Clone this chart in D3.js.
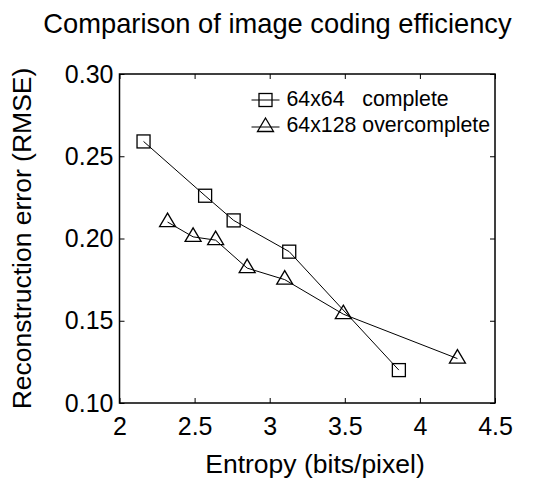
<!DOCTYPE html>
<html>
<head>
<meta charset="utf-8">
<script src="https://cdn.jsdelivr.net/npm/d3@7"></script>
<style>
  body { margin: 0; background: #fff; }
  text { font-family: "Liberation Sans", Arial, sans-serif; fill: #000; }
</style>
</head>
<body>
<div id="chart"></div>
<script>
var svgWidth = 544;
var svgHeight = 478;

var margin = { top: 74, right: 49, bottom: 75, left: 119.5 };
var width = svgWidth - margin.left - margin.right;
var height = svgHeight - margin.top - margin.bottom;

// data
var completeEntropy = [2.16, 2.57, 2.76, 3.13, 3.86];
var completeRmse = [0.259, 0.226, 0.211, 0.192, 0.120];
var overEntropy = [2.32, 2.49, 2.64, 2.85, 3.10, 3.49, 4.25];
var overRmse = [0.210, 0.201, 0.199, 0.182, 0.175, 0.154, 0.127];
var xTicks = [2, 2.5, 3, 3.5, 4, 4.5];
var yTicks = [0.10, 0.15, 0.20, 0.25, 0.30];
var seriesNames = ["64x64   complete", "64x128 overcomplete"];

var completeData = completeEntropy.map((e, i) => ({ x: e, y: completeRmse[i] }));
var overData = overEntropy.map((e, i) => ({ x: e, y: overRmse[i] }));

var svg = d3.select("#chart")
  .append("svg")
  .attr("width", svgWidth)
  .attr("height", svgHeight);

var chartGroup = svg.append("g")
  .attr("transform", `translate(${margin.left}, ${margin.top})`);

var xScale = d3.scaleLinear().domain([2, 4.5]).range([0, width]);
var yScale = d3.scaleLinear().domain([0.10, 0.30]).range([height, 0]);

// ticks pointing inward, on all four sides
function styleAxis(g) {
  g.select(".domain").remove();
  g.selectAll(".tick line").attr("stroke", "#000").attr("stroke-width", 1);
  g.selectAll(".tick text")
    .style("font-family", "'Liberation Sans', Arial, sans-serif")
    .style("font-size", "25px")
    .attr("fill", "#000");
}

chartGroup.append("g")
  .attr("transform", `translate(0, ${height})`)
  .call(d3.axisBottom(xScale).tickValues(xTicks).tickSize(-5).tickPadding(14)
    .tickFormat(d3.format("")))
  .call(styleAxis);

chartGroup.append("g")
  .call(d3.axisTop(xScale).tickValues(xTicks).tickSize(-5).tickFormat(""))
  .call(styleAxis);

chartGroup.append("g")
  .call(d3.axisLeft(yScale).tickValues(yTicks).tickSize(-5).tickPadding(6)
    .tickFormat(d3.format(".2f")))
  .call(styleAxis);

chartGroup.append("g")
  .attr("transform", `translate(${width}, 0)`)
  .call(d3.axisRight(yScale).tickValues(yTicks).tickSize(-5).tickFormat(""))
  .call(styleAxis);

// box
chartGroup.append("rect")
  .attr("width", width)
  .attr("height", height)
  .attr("fill", "none")
  .attr("stroke", "#000")
  .attr("stroke-width", 1.5);

var line = d3.line().x(d => xScale(d.x)).y(d => yScale(d.y));

var sq = 13;
var triPath = "M0,-9L8,4.5L-8,4.5Z";

function drawSquare(g, x, y) {
  g.append("rect")
    .attr("x", x - sq / 2).attr("y", y - sq / 2)
    .attr("width", sq).attr("height", sq)
    .attr("fill", "none").attr("stroke", "#000").attr("stroke-width", 1.3);
}
function drawTriangle(g, x, y) {
  g.append("path")
    .attr("d", triPath)
    .attr("transform", `translate(${x}, ${y})`)
    .attr("fill", "none").attr("stroke", "#000").attr("stroke-width", 1.3);
}

chartGroup.append("path")
  .datum(completeData)
  .attr("d", line)
  .attr("fill", "none").attr("stroke", "#000").attr("stroke-width", 1);

chartGroup.append("path")
  .datum(overData)
  .attr("d", line)
  .attr("fill", "none").attr("stroke", "#000").attr("stroke-width", 1);

var markers = chartGroup.append("g");
completeData.forEach(d => drawSquare(markers, xScale(d.x), yScale(d.y)));
overData.forEach(d => drawTriangle(markers, xScale(d.x), yScale(d.y)));

// legend
var legend = chartGroup.append("g").attr("transform", "translate(132, 26)");
[0, 1].forEach(function(i) {
  var row = legend.append("g").attr("transform", `translate(0, ${i * 27})`);
  row.append("line").attr("x1", 0).attr("x2", 28).attr("y1", 0).attr("y2", 0)
    .attr("stroke", "#000").attr("stroke-width", 1);
  if (i === 0) drawSquare(row, 14, 0);
  else drawTriangle(row, 14, 0);
  row.append("text")
    .attr("x", 35).attr("y", i === 0 ? -1 : -2)
    .attr("dy", "0.35em")
    .style("font-size", "21.3px")
    .style("white-space", "pre")
    .attr("xml:space", "preserve")
    .text(seriesNames[i]);
});

// title and axis labels
svg.append("text")
  .attr("x", 277.5).attr("y", 33)
  .attr("text-anchor", "middle")
  .style("font-size", "27.3px")
  .text("Comparison of image coding efficiency");

svg.append("text")
  .attr("x", 315).attr("y", 473)
  .attr("text-anchor", "middle")
  .style("font-size", "26.5px")
  .text("Entropy (bits/pixel)");

svg.append("text")
  .attr("transform", `translate(31, ${margin.top + height / 2}) rotate(-90)`)
  .attr("text-anchor", "middle")
  .style("font-size", "26.5px")
  .text("Reconstruction error (RMSE)");
</script>
</body>
</html>
